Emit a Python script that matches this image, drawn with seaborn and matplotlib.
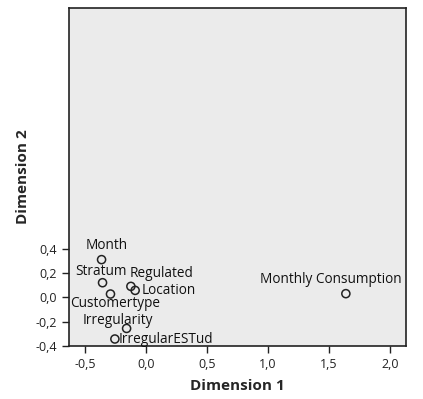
import numpy as np
import pandas as pd
import seaborn as sns
import matplotlib.pyplot as plt
from matplotlib.ticker import FuncFormatter

# Category quantification points
labels = ["Month", "Stratum", "Customertype", "Regulated", "Location",
          "Irregularity", "IrregularESTud", "Monthly Consumption"]
dim1 = [-0.363, -0.355, -0.29, -0.123, -0.088, -0.158, -0.254, 1.637]
dim2 = [0.31, 0.12, 0.027, 0.09, 0.057, -0.256, -0.343, 0.03]

data = pd.DataFrame({"label": labels, "Dimension 1": dim1, "Dimension 2": dim2})

sns.set_style("white")
plt.rcParams["font.family"] = ["Open Sans", "DejaVu Sans"]

fig = plt.figure(figsize=(4.23, 3.99), dpi=100)
ax = fig.add_axes([0.163, 0.133, 0.797, 0.847])
ax.set_facecolor("#ebebeb")

sns.scatterplot(x="Dimension 1", y="Dimension 2", data=data, ax=ax,
                marker="o", s=34, facecolor="none", edgecolor="#222222",
                linewidth=1.1, zorder=3)

# label offsets (points) and alignment per label
offsets = {
    "Month": (4, 10, "center"),
    "Stratum": (-1, 8, "center"),
    "Customertype": (3, -7, "center"),
    "Regulated": (-1, 9, "left"),
    "Location": (5, 0, "left"),
    "Irregularity": (-6, 6, "center"),
    "IrregularESTud": (3, 0, "left"),
    "Monthly Consumption": (-11, 10, "center"),
}
for _, row in data.iterrows():
    dx, dy, ha = offsets[row["label"]]
    ax.annotate(row["label"], (row["Dimension 1"], row["Dimension 2"]),
                xytext=(dx, dy), textcoords="offset points",
                ha=ha, va="center", fontsize=9.8, color="#111111")

ax.set_xlim(-0.63, 2.13)
ax.set_ylim(-0.4, 2.38)
ax.set_xticks([-0.5, 0.0, 0.5, 1.0, 1.5, 2.0])
ax.set_yticks([-0.4, -0.2, 0.0, 0.2, 0.4])
comma = FuncFormatter(lambda v, p: f"{v:.1f}".replace(".", ","))
ax.xaxis.set_major_formatter(comma)
ax.yaxis.set_major_formatter(comma)
ax.tick_params(axis="both", direction="out", length=5, width=1, labelsize=9,
               bottom=True, left=True, colors="#222222")

for side in ax.spines.values():
    side.set_color("#222222")
    side.set_linewidth(1.2)

ax.set_xlabel("Dimension 1", fontsize=11, fontweight="bold", labelpad=6)
ax.set_ylabel("Dimension 2", fontsize=11, fontweight="bold", labelpad=4)

plt.savefig("out.png", dpi=100)
